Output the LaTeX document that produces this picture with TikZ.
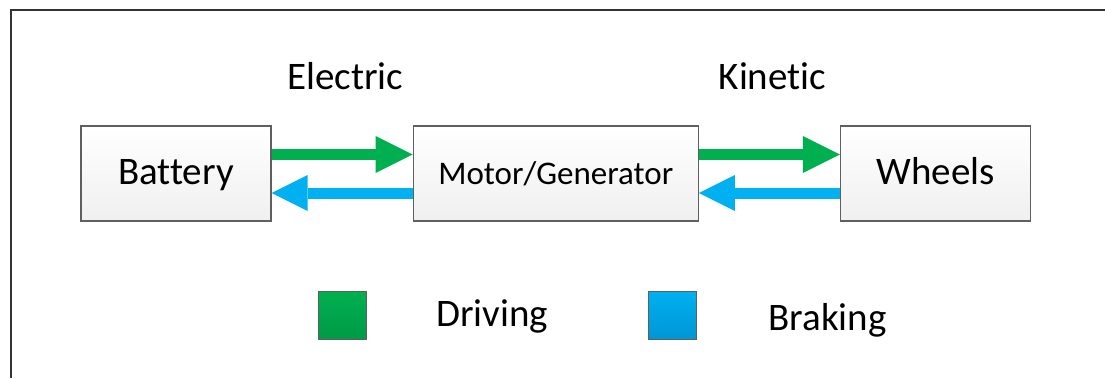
\documentclass[tikz,border=0pt]{standalone}
\usepackage{fontspec}
\setmainfont{Carlito}[Ligatures={NoCommon,NoContextual}, RawFeature={-liga;-clig}]
\usepackage{xcolor}
\usepackage{tikz}
\usetikzlibrary{arrows.meta, positioning}
\definecolor{drivegreen}{HTML}{00B050}
\definecolor{drivegreendark}{HTML}{009A45}
\definecolor{brakeblue}{HTML}{00B0F0}
\definecolor{brakebluedark}{HTML}{0096D6}
\definecolor{boxgray}{HTML}{5F5F5F}
\definecolor{framegray}{HTML}{333333}
\newcommand{\bigfont}{\fontsize{39}{46}\selectfont}
\newcommand{\midfont}{\fontsize{33}{40}\selectfont}
\tikzstyle{block} = [rectangle, minimum width=190pt, minimum height=95pt, text centered, text height=29pt, text depth=8pt, draw=boxgray, line width=1.3pt, top color=white, bottom color=gray!12, font=\bigfont]
\tikzstyle{key} = [rectangle, minimum size=48pt, draw=boxgray, line width=1.3pt]
\tikzstyle{lbl} = [font=\bigfont, inner sep=0pt]
\tikzstyle{drive} = [line width=11pt, draw=drivegreen, -{Triangle[length=37pt, width=37pt, line width=0pt]}]
\tikzstyle{brake} = [line width=11pt, draw=brakeblue, -{Triangle[length=36pt, width=36pt, line width=0pt]}]

\begin{document}
\begin{tikzpicture}[x=1pt, y=1pt, node distance=141pt]
    \useasboundingbox (-176,-204.5) rectangle (929,173.5);
    \draw [framegray, line width=2pt] (-165,-204.5) |- (929,163.5);

    \node (battery) [block] {Battery};
    \node (motor) [block, right=of battery, minimum width=285pt, font=\midfont] {Motor/Generator};
    \node (wheels) [block, right=of motor] {Wheels};

    \draw [drive] ([yshift=19pt]battery.east) -- node (electric) [lbl, above=59pt, xshift=3pt] {Electric} ([yshift=19pt]motor.west);
    \draw [brake] ([yshift=-19.5pt]motor.west) -- ([yshift=-19.5pt]battery.east);
    \draw [drive] ([yshift=19pt]motor.east) -- node (kinetic) [lbl, above=59pt, xshift=3pt] {Kinetic} ([yshift=19pt]wheels.west);
    \draw [brake] ([yshift=-19.5pt]wheels.west) -- ([yshift=-19.5pt]motor.east);

    \node (drivekey) [key, top color=drivegreen, bottom color=drivegreendark, below right=69pt and 46pt of battery.south east, anchor=north west] {};
    \node (driving) [lbl, right=69pt of drivekey, yshift=-1pt] {Driving};
    \node (brakekey) [key, top color=brakeblue, bottom color=brakebluedark, right=281pt of drivekey] {};
    \node (braking) [lbl, right=71pt of brakekey, yshift=-5pt] {Braking};
\end{tikzpicture}
\end{document}
